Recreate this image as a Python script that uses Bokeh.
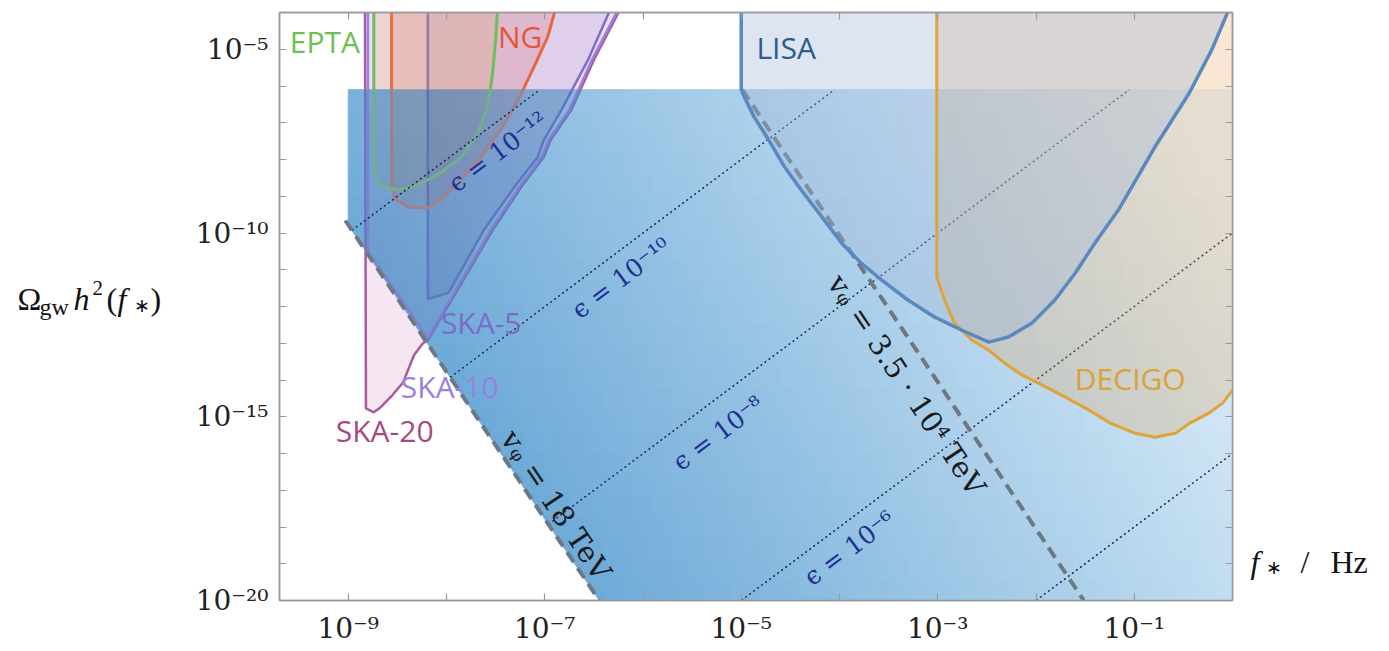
import numpy as np
from bokeh.plotting import figure
from bokeh.models import FixedTicker, CustomJSTickFormatter, LogAxis, Label, Range1d
from bokeh.layouts import row
from bokeh.core.properties import value
from bokeh.embed import file_html
from bokeh.resources import INLINE

# ---------------- data: log10 f_* [Hz]  and  log10 Omega_gw h^2 ----------------
x_span = [-9.7, 0.0]
y_span = [-20.0, -4.0]

x_tick_exp = [-9, -8, -7, -6, -5, -4, -3, -2, -1, 0]
x_label_exp = [-9, -7, -5, -3, -1]
x_label_txt = ["10⁻⁹", "10⁻⁷", "10⁻⁵", "10⁻³", "10⁻¹"]
y_tick_exp = list(range(-20, -4))
y_label_exp = [-20, -15, -10, -5]
y_label_txt = ["10⁻²⁰", "10⁻¹⁵", "10⁻¹⁰", "10⁻⁵"]

# blue (theory) region
region_logf = [-9.0, 0.0, 0.0, -6.445, -9.0]
region_logomega = [-6.1, -6.1, -20.0, -20.0, -9.78]

# v_phi dashed lines
v18_logf = [-9.03, -6.445]
v18_logomega = [-9.66, -20.0]
v35_logf = [-4.99, -1.513]
v35_logomega = [-6.1, -20.0]

# epsilon dotted lines (start, end)
eps_logf = [[-8.963, -7.05], [-7.963, -4.05], [-6.963, -1.05], [-5.0, 0.0], [-2.0, 0.0]]
eps_logomega = [[-9.926, -6.1], [-13.93, -6.1], [-17.93, -6.1], [-20.0, -10.0], [-20.0, -16.0]]
eps_text = ["ϵ = 10⁻¹²", "ϵ = 10⁻¹⁰", "ϵ = 10⁻⁸", "ϵ = 10⁻⁶"]
eps_text_logf = [-7.476, -6.222, -5.233, -3.898]
eps_text_logomega = [-7.79, -11.23, -15.45, -18.58]

# detectors
epta_logf = [-8.74, -8.74, -8.70, -8.64, -8.47, -8.29, -8.06, -7.85, -7.68, -7.58, -7.53, -7.50, -7.48]
epta_logomega = [-3.9, -8.20, -8.61, -8.77, -8.83, -8.69, -8.37, -7.93, -7.28, -6.57, -5.64, -4.74, -3.9]

ng_logf = [-8.56, -8.56, -8.52, -8.39, -8.19, -8.06, -7.85, -7.65, -7.45, -7.27, -7.11, -6.97, -6.89]
ng_logomega = [-3.9, -8.75, -9.10, -9.29, -9.32, -9.10, -8.56, -7.93, -7.19, -6.38, -5.48, -4.66, -3.9]

ska5_logf = [-8.19, -8.19, -7.98, -7.62, -7.31, -7.07, -7.01, -6.83, -6.56, -6.33]
ska5_logomega = [-3.9, -11.80, -11.63, -9.92, -8.75, -7.93, -7.47, -6.65, -5.29, -3.9]

ska10_logf = [-8.80, -8.80, -8.19, -7.55, -7.26, -7.03, -6.96, -6.75, -6.52, -6.25]
ska10_logomega = [-3.9, -10.50, -12.85, -9.92, -8.75, -7.93, -7.47, -6.65, -5.29, -3.9]

ska20_logf = [-8.83, -8.82, -8.74, -8.67, -8.55, -8.44, -8.38, -8.33, -8.24, -8.19,
              -7.53, -7.24, -7.01, -6.94, -6.73, -6.50, -6.23]
ska20_logomega = [-3.9, -14.77, -14.88, -14.74, -14.41, -14.06, -13.65, -13.32, -13.0, -12.92,
                  -9.92, -8.75, -7.93, -7.47, -6.65, -5.29, -3.9]

lisa_logf = [-5.0, -5.0, -4.97, -4.87, -4.72, -4.56, -4.39, -4.18, -3.98, -3.78, -3.57, -3.30,
             -3.03, -2.76, -2.48, -2.28, -2.04, -1.81, -1.60, -1.40, -1.16, -0.79, -0.44,
             -0.21, -0.05, -0.02]
lisa_logomega = [-3.9, -6.10, -6.29, -6.84, -7.47, -8.20, -8.83, -9.56, -10.27, -10.82, -11.28,
                 -11.83, -12.29, -12.64, -12.97, -12.83, -12.45, -11.83, -11.09, -10.27, -9.37,
                 -7.66, -6.19, -5.01, -4.0, -3.9]

decigo_logf = [-3.01, -3.01, -2.93, -2.83, -2.65, -2.48, -2.32, -2.14, -1.97, -1.74, -1.46,
               -1.26, -0.99, -0.79, -0.58, -0.44, -0.24, -0.10, 0.05, 0.05]
decigo_logomega = [-3.9, -11.20, -11.83, -12.45, -12.92, -13.19, -13.54, -13.87, -14.09, -14.41,
                   -14.82, -15.15, -15.45, -15.56, -15.45, -15.18, -14.90, -14.63, -14.1, -3.9]

det_names = ["EPTA", "NG", "LISA", "DECIGO", "SKA-5", "SKA-10", "SKA-20"]
det_label_logf = [-9.596, -7.476, -4.846, -1.605, -8.057, -8.465, -9.127]
det_label_logomega = [-4.80, -4.66, -4.96, -13.95, -12.43, -14.17, -15.37]
det_colors = ["#6cbf50", "#e8553a", "#2b5c8c", "#d9a23a", "#7a6cc8", "#9a80e0", "#a8487e"]

v_text = ["vᵩ = 18 TeV", "vᵩ = 3.5 · 10⁴ TeV"]
v_text_logf = [-6.885, -3.317]
v_text_logomega = [-17.41, -14.14]

# axis titles: (text, x px, baseline px, size, style)
ylab_pieces = [("Ω", 17, 317, "32px", "normal"), ("gw", 39, 325, "24px", "normal"),
               ("h", 73, 317, "32px", "italic"), ("2", 92, 305, "21px", "normal"),
               ("(", 106, 317, "32px", "normal"), ("f", 117, 317, "32px", "italic"),
               ("∗", 133, 324, "19px", "normal"), (")", 150, 317, "32px", "normal")]
xlab_pieces = [("f", 8, 607, "32px", "italic"), ("∗", 23, 614, "19px", "normal"),
               ("/", 58, 607, "32px", "normal"), ("Hz", 88, 607, "32px", "normal")]


def P(a):
    return [10.0 ** v for v in a]


SERIF = "Liberation Serif"
MATH = "DejaVu Serif"
SANS = "Open Sans"

H = 650
WL, WM, WR = 190, 1052, 145

p = figure(width=WM, height=H, x_axis_type="log", y_axis_type="log",
           x_range=(10 ** x_span[0], 10 ** x_span[1]), y_range=(10 ** y_span[0], 10 ** y_span[1]),
           output_backend="svg", toolbar_location=None,
           min_border_left=89, min_border_right=10, min_border_top=12, min_border_bottom=50)
p.grid.visible = False
p.outline_line_color = "#9a9a9a"
p.outline_line_width = 1.5
p.background_fill_color = "white"
p.border_fill_color = "white"

fmt_code = """
const e = Math.round(Math.log10(tick));
const i = exps.indexOf(e);
return i >= 0 ? texts[i] : "";
"""
blank = CustomJSTickFormatter(code="return '';")


def style_axis(ax, ticks, exps, texts, show):
    ax.ticker = FixedTicker(ticks=[10.0 ** k for k in ticks])
    ax.formatter = CustomJSTickFormatter(code=fmt_code, args=dict(exps=exps, texts=texts)) if show else blank
    ax.major_tick_in = 7
    ax.major_tick_out = 0
    ax.minor_tick_line_color = None
    ax.major_tick_line_color = "#9a9a9a"
    ax.major_tick_line_width = 1.2
    ax.axis_line_color = "#9a9a9a"
    ax.axis_line_width = 1.5
    ax.major_label_text_font = MATH
    ax.major_label_text_font_size = "28px" if show else "0px"
    ax.major_label_text_color = "#222222"
    ax.major_label_standoff = 11 if show else 0


style_axis(p.xaxis[0], x_tick_exp, x_label_exp, x_label_txt, True)
style_axis(p.yaxis[0], y_tick_exp, y_label_exp, y_label_txt, True)
top_ax = LogAxis()
right_ax = LogAxis()
style_axis(top_ax, x_tick_exp, [], [], False)
style_axis(right_ax, y_tick_exp, [], [], False)
p.add_layout(top_ax, "above")
p.add_layout(right_ax, "right")


# ---------------- geometry helpers ----------------
def clip_half(poly, s):
    out = []
    for i in range(len(poly)):
        a, b = poly[i - 1], poly[i]
        sa, sb = s(a), s(b)
        if sb >= 0:
            if sa < 0:
                t = sa / (sa - sb)
                out.append((a[0] + t * (b[0] - a[0]), a[1] + t * (b[1] - a[1])))
            out.append(b)
        elif sa >= 0:
            t = sa / (sa - sb)
            out.append((a[0] + t * (b[0] - a[0]), a[1] + t * (b[1] - a[1])))
    return out


def clip_rect(poly, x0, x1, y0, y1):
    for s in (lambda q: q[0] - x0, lambda q: x1 - q[0], lambda q: q[1] - y0, lambda q: y1 - q[1]):
        if len(poly) < 3:
            return []
        poly = clip_half(poly, s)
    return poly


def split_line(xs, ys, funcs):
    pts = [(xs[0], ys[0])]
    for i in range(1, len(xs)):
        a, b = (xs[i - 1], ys[i - 1]), (xs[i], ys[i])
        ts = []
        for s in funcs:
            sa, sb = s(a), s(b)
            if (sa < 0) != (sb < 0) and sa != sb:
                ts.append(sa / (sa - sb))
        for t in sorted(ts):
            pts.append((a[0] + t * (b[0] - a[0]), a[1] + t * (b[1] - a[1])))
        pts.append(b)
    runs = []
    for i in range(1, len(pts)):
        m = (0.5 * (pts[i - 1][0] + pts[i][0]), 0.5 * (pts[i - 1][1] + pts[i][1]))
        inside = all(s(m) >= 0 for s in funcs)
        if runs and runs[-1][0] == inside:
            runs[-1][1].append(pts[i])
        else:
            runs.append((inside, [pts[i - 1], pts[i]]))
    return runs


region = list(zip(region_logf, region_logomega))
fx0, fx1 = min(region_logf), max(region_logf)
fy0, fy1 = min(region_logomega), max(region_logomega)
top_y = region_logomega[0]
dx1, dy1 = region_logf[4], region_logomega[4]
dx2, dy2 = region_logf[3], region_logomega[3]
dslope = (dy2 - dy1) / (dx2 - dx1)


def s_below_top(q):
    return top_y - q[1]


def s_above_dash(q):
    return q[1] - (dy1 + dslope * (q[0] - dx1))


in_blue = [s_below_top, s_above_dash]

# ---------------- blue gradient (opaque cells) ----------------
dark = np.array([80, 152, 207])
light = np.array([228, 242, 251])
xe = np.linspace(fx0, fx1, 91)
ye = np.linspace(fy0, fy1, 25)
cxs, cys, ccols = [], [], []
for i in range(len(xe) - 1):
    for j in range(len(ye) - 1):
        cell = clip_rect(region, xe[i], xe[i + 1], ye[j], ye[j + 1])
        if len(cell) < 3:
            continue
        u = (0.5 * (xe[i] + xe[i + 1]) - fx0) / (fx1 - fx0)
        v = (0.5 * (ye[j] + ye[j + 1]) - fy0) / (fy1 - fy0)
        t = min(max(0.78 * u + 0.3 * v - 0.02, 0.0), 1.0)
        col = np.clip(np.round(dark + (light - dark) * t), 0, 255).astype(int)
        cxs.append(P([q[0] for q in cell]))
        cys.append(P([q[1] for q in cell]))
        ccols.append("#%02x%02x%02x" % tuple(col))
p.patches(cxs, cys, fill_color=ccols, line_color=ccols, line_width=1)

# ---------------- PTA / SKA, muted where they lie under the blue region ----------------
pta = [  # logf, logomega, fill out, alpha out, fill in, alpha in, line out, line in, width
    (ska20_logf, ska20_logomega, "#d080c0", 0.2, "#503c8c", 0.07, "#aa5aa0", "#6c74bc", 2.5),
    (ska10_logf, ska10_logomega, "#9678dc", 0.07, "#503c8c", 0.03, "#9a80e0", "#7c84d0", 2.5),
    (ska5_logf, ska5_logomega, "#6e64c8", 0.11, "#3c3c8c", 0.10, "#7a70c8", "#5a78c4", 2.5),
    (ng_logf, ng_logomega, "#d0605a", 0.2, "#8c5050", 0.13, "#eb643c", "#a4808c", 3),
    (epta_logf, epta_logomega, "#e0aa50", 0.18, "#6e7840", 0.07, "#6cbf5a", "#72b08c", 3),
]
for lf, lo, fo, ao, fi, ai, lc_out, lc_in, lw in pta:
    poly = list(zip(lf, lo))
    above = clip_half(poly, lambda q: -s_below_top(q))
    below = clip_half(poly, s_below_top)
    inside = clip_half(below, s_above_dash) if len(below) > 2 else []
    under = clip_half(below, lambda q: -s_above_dash(q)) if len(below) > 2 else []
    for part, fc, fa in ((above, fo, ao), (under, fo, ao), (inside, fi, ai)):
        if len(part) > 2:
            p.patch(P([q[0] for q in part]), P([q[1] for q in part]), fill_color=fc, fill_alpha=fa,
                    line_color=None)
    for ins, pts in split_line(lf, lo, in_blue):
        p.line(P([q[0] for q in pts]), P([q[1] for q in pts]), line_color=lc_in if ins else lc_out,
               line_width=lw)

# ---------------- epsilon and v_phi lines ----------------
for lf, lo in zip(eps_logf, eps_logomega):
    p.line(P(lf), P(lo), line_color="#1e2850", line_width=1.5, line_dash="2 3")
for lf, lo in [(v18_logf, v18_logomega), (v35_logf, v35_logomega)]:
    p.line(P(lf), P(lo), line_color="#6e7882", line_width=4, line_dash="12 7")

# ---------------- LISA / DECIGO ----------------
p.patch(P(decigo_logf), P(decigo_logomega), fill_color="#e6a050", fill_alpha=0.25, line_color=None)
p.patch(P(lisa_logf), P(lisa_logomega), fill_color="#a0b8d8", fill_alpha=0.36, line_color=None)
p.line(P(decigo_logf[:-1]), P(decigo_logomega[:-1]), line_color="#e0a33a", line_width=3)
p.line(P(lisa_logf), P(lisa_logomega), line_color="#5a88c0", line_width=3.5)

# ---------------- texts in the plot ----------------
for name, lf, lo, c in zip(det_names, det_label_logf, det_label_logomega, det_colors):
    p.add_layout(Label(x=10 ** lf, y=10 ** lo, text=name, text_color=c, text_font=SANS,
                       text_font_size="30px", text_align="left", text_baseline="middle"))

eps_angle = np.arctan(2 * 36.7 / 98.1)
for txt, lf, lo in zip(eps_text, eps_text_logf, eps_text_logomega):
    p.add_layout(Label(x=10 ** lf, y=10 ** lo, text=txt, text_color="#1e2f8f", text_font=MATH,
                       text_font_size="25px", text_align="center", text_baseline="middle",
                       angle=eps_angle))

v_angle = -np.arctan(4 * 36.7 / 98.1)
for txt, lf, lo in zip(v_text, v_text_logf, v_text_logomega):
    p.add_layout(Label(x=10 ** lf, y=10 ** lo, text=txt, text_color="#1a1a1a", text_font=MATH,
                       text_font_size="29px", text_align="center", text_baseline="middle",
                       angle=v_angle))


# ---------------- side panels with the axis titles ----------------
def side_panel(width, pieces):
    f = figure(width=width, height=H, x_range=Range1d(0, width), y_range=Range1d(H, 0),
               output_backend="svg", toolbar_location=None, x_axis_location=None,
               y_axis_location=None, min_border=0)
    f.grid.visible = False
    f.outline_line_color = None
    f.background_fill_color = "white"
    f.border_fill_color = "white"
    for txt, x, y, fs, st in pieces:
        f.text(x=[x], y=[y], text=[txt], text_font=value(SERIF), text_font_size=value(fs),
               text_font_style=st, text_color="#111111", text_align="left",
               text_baseline="alphabetic")
    return f


left = side_panel(WL, ylab_pieces)
right = side_panel(WR, xlab_pieces)

layout = row(left, p, right, spacing=0)
open("out.html", "w").write(file_html(layout, INLINE))
